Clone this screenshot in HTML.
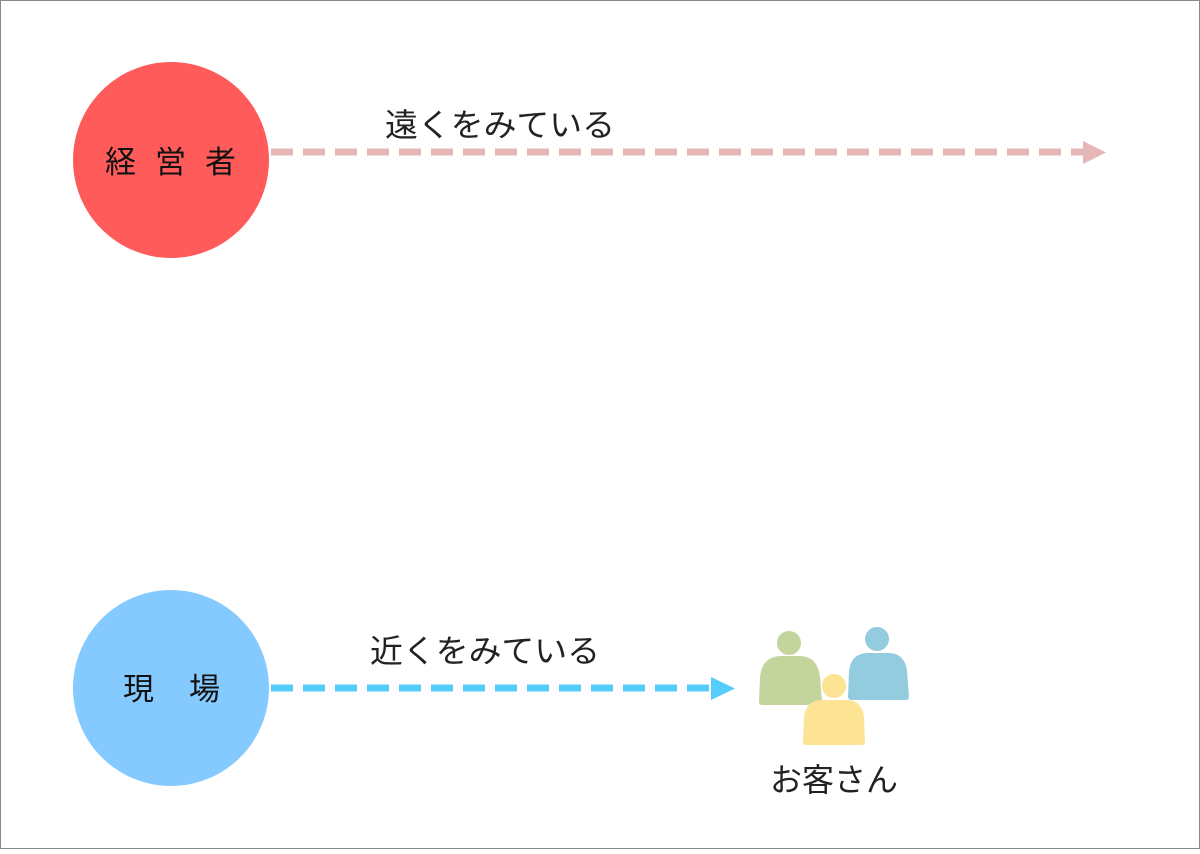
<!DOCTYPE html>
<html><head><meta charset="utf-8"><style>
html,body{margin:0;padding:0;background:#fff}
body{width:1200px;height:849px;overflow:hidden}
text{font-family:"Liberation Sans","Noto Sans CJK JP",sans-serif}
</style></head><body>
<svg width="1200" height="849" xmlns="http://www.w3.org/2000/svg">
<rect x="0.5" y="0.5" width="1199" height="848" fill="#fff" stroke="#888" stroke-width="1"/>
<circle cx="171" cy="160" r="98" fill="#ff5b5b"/>
<text x="105" y="173" font-size="31" fill="#111">経</text>
<text x="155" y="173" font-size="31" fill="#111">営</text>
<text x="205" y="173" font-size="31" fill="#111">者</text>
<line x1="271" y1="152" x2="1084" y2="152" stroke="#e6b7b6" stroke-width="7" stroke-dasharray="22,10"/>
<polygon points="1083,141 1106,152.5 1083,164" fill="#e6b7b6"/>
<text x="385" y="136" font-size="32" fill="#222" textLength="230" lengthAdjust="spacingAndGlyphs">遠くをみている</text>
<circle cx="171" cy="688" r="98" fill="#85caff"/>
<text x="123" y="700" font-size="31" fill="#111">現</text>
<text x="189" y="700" font-size="31" fill="#111">場</text>
<line x1="271" y1="688" x2="712" y2="688" stroke="#55cdfb" stroke-width="7" stroke-dasharray="22,10"/>
<polygon points="711,677 735,688.5 711,700" fill="#55cdfb"/>
<text x="370" y="662" font-size="32" fill="#222" textLength="230" lengthAdjust="spacingAndGlyphs">近くをみている</text>
<!-- people -->
<g fill="#c3d59c">
<circle cx="789" cy="643" r="12"/>
<path d="M762,702 L763,677 Q765,660 780,659 L801,659 Q815,660 817,677 L819,702 Z" stroke="#c3d59c" stroke-width="6" stroke-linejoin="round"/>
</g>
<g fill="#93ccdf">
<circle cx="877" cy="639" r="12"/>
<path d="M851,697 L852,671 Q854,656 868,656 L888,656 Q902,656 904,671 L906,697 Z" stroke="#93ccdf" stroke-width="6" stroke-linejoin="round"/>
</g>
<g fill="#fde394">
<circle cx="834" cy="686" r="12"/>
<path d="M806,742 L807,717 Q809,703 822,703 L846,703 Q859,703 861,717 L862,742 Z" stroke="#fde394" stroke-width="6" stroke-linejoin="round"/>
</g>
<text x="770" y="791" font-size="32" fill="#222" textLength="128" lengthAdjust="spacingAndGlyphs">お客さん</text>
</svg>
</body></html>
